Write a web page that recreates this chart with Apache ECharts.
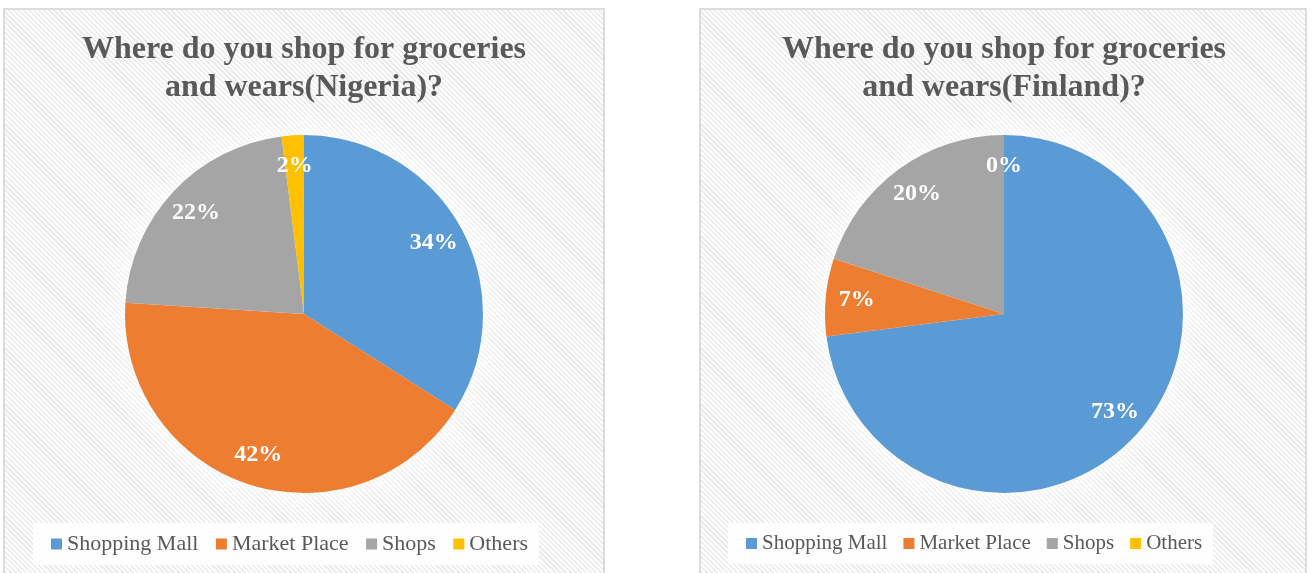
<!DOCTYPE html>
<html>
<head>
<meta charset="utf-8">
<script src="https://cdn.jsdelivr.net/npm/echarts@6/dist/echarts.min.js"></script>
<style>
html,body{margin:0;padding:0;width:1314px;height:573px;background:#fff;overflow:hidden;}
.panel{position:absolute;top:8px;height:575px;box-sizing:border-box;border:2px solid #dcdcdc;
background:repeating-linear-gradient(45deg,#ffffff 0px,#ffffff 2px,#ebebeb 2px,#ebebeb 3.6px);}
#chart{position:absolute;left:0;top:0;width:1314px;height:573px;}
</style>
</head>
<body>
<div class="panel" style="left:3px;width:602px;"></div>
<div class="panel" style="left:699px;width:608px;"></div>
<div id="chart"></div>
<script>
const categories = ['Shopping Mall', 'Market Place', 'Shops', 'Others'];
const nigeriaValues = [34, 42, 22, 2];
const finlandValues = [73, 7, 20, 0];
const colors = ['#5B9BD5', '#ED7D31', '#A5A5A5', '#FFC000'];
const titles = ['Where do you shop for groceries\nand wears(Nigeria)?', 'Where do you shop for groceries\nand wears(Finland)?'];

const chart = echarts.init(document.getElementById('chart'), null, {renderer: 'canvas'});

function mk(values) {
  return categories.map((c, i) => ({name: c, value: values[i]}));
}
const centers = [[304, 314], [1004, 314]];
const R = 179;
const series = [];
[nigeriaValues, finlandValues].forEach((vals, k) => {
  series.push({
    type: 'pie', silent: true, center: centers[k], radius: [0, R], startAngle: 90,
    data: [{name: '_bg', value: 1}], label: {show: false}, labelLine: {show: false},
    itemStyle: {color: '#ffffff', shadowBlur: 35, shadowColor: 'rgba(255,255,255,1)'},
    z: 1, animation: false
  });
  series.push({
    type: 'pie', center: centers[k], radius: [0, R], startAngle: 90, clockwise: true,
    data: mk(vals), label: {show: false}, labelLine: {show: false},
    itemStyle: {borderWidth: 0}, emphasis: {disabled: true}, z: 2, animation: false
  });
  series.push({
    type: 'pie', silent: true, center: centers[k], radius: [111, R], startAngle: 90, clockwise: true,
    data: mk(vals), labelLine: {show: false}, itemStyle: {color: 'rgba(0,0,0,0)'},
    label: {show: true, position: 'inside', formatter: '{c}%', color: '#ffffff',
      fontFamily: 'Liberation Serif', fontWeight: 'bold', fontSize: 24},
    emphasis: {disabled: true}, z: 3, animation: false
  });
});

function legend(left, fontSize, gap) {
  return {
    data: categories, orient: 'horizontal', icon: 'rect', itemWidth: 11, itemHeight: 11, itemGap: gap,
    left: left, top: 523, padding: [10, 11, 10, 18], backgroundColor: 'rgba(255,255,255,0.88)',
    textStyle: {fontFamily: 'Liberation Serif', fontSize: fontSize, color: '#595959'},
    selectedMode: false
  };
}

chart.setOption({
  color: colors,
  animation: false,
  title: titles.map((t, k) => ({
    text: t, left: centers[k][0], top: 31, textAlign: 'center', padding: 0,
    textStyle: {fontFamily: 'Liberation Serif', fontWeight: 'bold', fontSize: 32, color: '#595959', lineHeight: 38}
  })),
  legend: [legend(33, 22, 17.5), legend(728, 21, 16)],
  series: series
});
</script>
</body>
</html>
